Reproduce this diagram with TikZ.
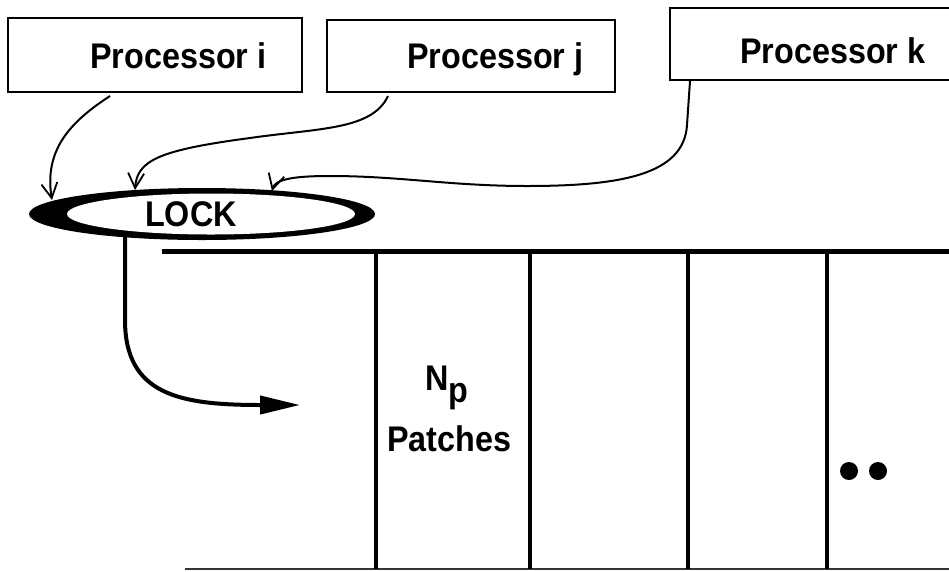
\documentclass[tikz,border=0pt]{standalone}
\usepackage{fontspec}
\usepackage{graphicx}
\setmainfont{Liberation Sans}
\usetikzlibrary{arrows.meta,shapes.geometric}
\newcommand\bigtxt{\fontsize{33}{38}\selectfont\bfseries}
\newcommand\tallt[1]{\scalebox{0.98}[1.08]{#1}}
\tikzset{
  pbox/.style={draw, line width=2pt, inner sep=0pt},
  lbl/.style={font=\bigtxt, inner sep=0pt, anchor=base west},
  conn/.style={line width=2pt, -{Straight Barb[length=15pt,width=16pt,line width=1.8pt]}},
  wall/.style={line width=3.5pt},
}
\begin{document}
\begin{tikzpicture}[x=1pt,y=-1pt]
\useasboundingbox (0,0) rectangle (949,571);
% processor boxes
\node[pbox, minimum width=294pt, minimum height=74pt] (pi) at (155,55) {};
\node[pbox, minimum width=288pt, minimum height=72pt] (pj) at (471,56) {};
\node[pbox, minimum width=300pt, minimum height=72pt] (pk) at (820,44) {};
\node[lbl] (ti) at (90,68) {\tallt{Processor i}};
\node[lbl] (tj) at (407,68) {\tallt{Processor j}};
\node[lbl] (tk) at (740,63) {\tallt{Processor k}};
% lock
\fill[black] (202,214) ellipse [x radius=173pt, y radius=26pt];
\node[ellipse, fill=white, inner sep=0pt, minimum width=288pt, minimum height=41pt] (lock) at (211,214) {};
\node[lbl] (tl) at (145,226) {\tallt{LOCK}};
% connector points
\coordinate (si) at (110,96);
\coordinate (sj) at (388,96);
\coordinate (sk) at (690,81);
\coordinate (ei) at (52,200);
\coordinate (ej) at (135,190);
\coordinate (ek) at (272,191);
\draw[conn] (si) .. controls (70,122) and (44,150) .. (ei);
\draw[conn] (sj) .. controls (372,130) and (320,128) .. (250,138) .. controls (160,150) and (137,160) .. (ej);
\draw[conn] (sk) -- (687,125) .. controls (684,175) and (620,186) .. (527,186) .. controls (450,186) and (400,176) .. (330,176) .. controls (290,176) and (275,180) .. (ek);
% patches
\coordinate (tl0) at (162,251);
\coordinate (tr0) at (949,251);
\draw[line width=5pt] (tl0) -- (tr0);
\draw[line width=1.8pt, black!80] (185,569) -- (949,569);
\foreach \x/\n in {376/a,530/b,688/c,827/d} {
  \coordinate (w\n t) at (\x,253);
  \coordinate (w\n b) at (\x,569);
  \draw[wall] (w\n t) -- (w\n b);
}
\node[lbl] (np) at (425,390) {\tallt{N\raisebox{-12pt}{p}}};
\node[lbl] (pt) at (387,451) {\tallt{Patches}};
\fill (849,471) circle[radius=9pt];
\fill (878,471) circle[radius=9pt];
% arrow from lock
\coordinate (ls) at (125,237);
\coordinate (le) at (300,405);
\draw[line width=4pt, -{Triangle[length=40pt,width=18pt]}] (ls) -- (125,320) .. controls (125,395) and (180,405) .. (le);
\end{tikzpicture}
\end{document}
